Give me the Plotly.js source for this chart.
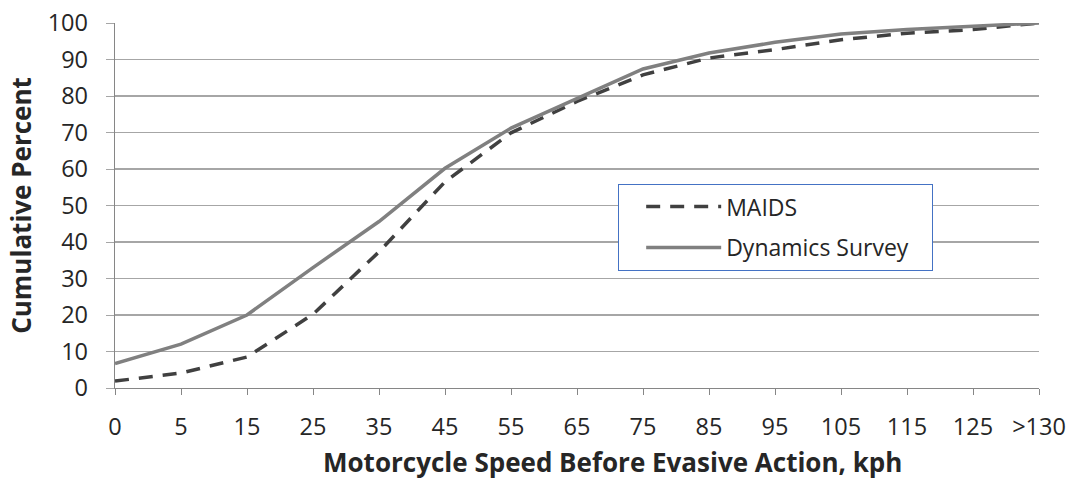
<!DOCTYPE html>
<html>
<head>
<meta charset="utf-8">
<script src="https://cdn.plot.ly/plotly-3.0.1.min.js"></script>
<style>html,body{margin:0;padding:0;background:#fff;}#chart{width:1070px;height:479px;}</style>
</head>
<body>
<div id="chart"></div>
<script>
var speedCategories = ["0","5","15","25","35","45","55","65","75","85","95","105","115","125",">130"];
var maidsValues = [1.9, 4.1, 8.5, 20.2, 37.3, 56.5, 69.9, 78.5, 85.8, 90.4, 92.7, 95.4, 97.2, 98.2, 100];
var dynamicsValues = [6.7, 12.0, 20.0, 33.0, 45.6, 60.2, 71.2, 79.4, 87.4, 91.8, 94.7, 97.0, 98.2, 99.1, 100];
var seriesNames = ["MAIDS", "Dynamics Survey"];
var yTickValues = [0,10,20,30,40,50,60,70,80,90,100];

var FONT = "Open Sans, Liberation Sans, sans-serif";
var traces = [
  {x: speedCategories, y: maidsValues, name: seriesNames[0] + "&nbsp;&nbsp;&nbsp;", type: "scatter", mode: "lines",
   line: {color: "#404040", width: 3.5, dash: "14px,10px"}, legendgroup: "a"},
  {x: speedCategories, y: dynamicsValues, name: seriesNames[1] + "&nbsp;&nbsp;&nbsp;", type: "scatter", mode: "lines",
   line: {color: "#808080", width: 3.5}, legendgroup: "b"}
];
var layout = {
  width: 1070, height: 479,
  margin: {l: 115, r: 31, t: 23, b: 91},
  paper_bgcolor: "#fff", plot_bgcolor: "#fff",
  font: {family: FONT, size: 23, color: "#262626"},
  showlegend: true,
  legend: {x: 0.5444, y: 0.559, xanchor: "left", yanchor: "top",
    bordercolor: "#4472C4", borderwidth: 1.2, bgcolor: "#fff",
    font: {family: FONT, size: 23, color: "#262626"},
    title: {text: "&nbsp;&nbsp;", side: "left", font: {family: FONT, size: 23}},
    itemwidth: 75, tracegroupgap: 8},
  xaxis: {type: "category", range: [0, 14], showgrid: false, zeroline: false,
    showline: true, linecolor: "#868686", linewidth: 1.3,
    ticks: "outside", ticklen: 6, tickcolor: "#868686", ticklabelstandoff: 11,
    tickfont: {family: FONT, size: 23.5, color: "#262626"}},
  yaxis: {range: [0, 100], tickvals: yTickValues, showgrid: true, gridcolor: "#a6a6a6", gridwidth: 1.2,
    zeroline: false, showline: true, linecolor: "#868686", linewidth: 1.3,
    ticks: "outside", ticklen: 8, tickcolor: "#a6a6a6", ticklabelstandoff: 13,
    tickfont: {family: FONT, size: 23.5, color: "#262626"},
    title: {text: "<b>Cumulative Percent</b>", standoff: 8, font: {family: FONT, size: 26, color: "#262626"}}},
  annotations: [{
    text: "<b>Motorcycle Speed Before Evasive Action, kph</b>", xref: "paper", yref: "paper",
    x: 0.538, y: -0.203, xanchor: "center", yanchor: "middle", showarrow: false,
    font: {family: FONT, size: 26, color: "#262626"}
  }]
};
Plotly.newPlot("chart", traces, layout, {displayModeBar: false, staticPlot: true});
</script>
</body>
</html>
